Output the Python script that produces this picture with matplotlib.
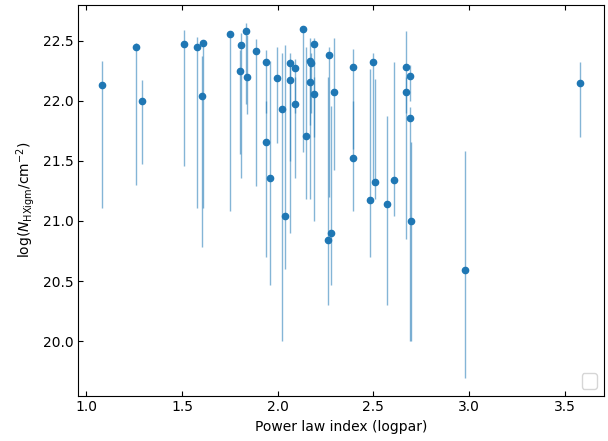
import matplotlib
matplotlib.use("Agg")
import matplotlib.pyplot as plt
import numpy as np

# power-law index and IGM column density with asymmetric bounds
index = [1.083, 1.261, 1.292, 1.512, 1.579, 1.612, 1.603,
         1.751, 1.809, 1.802, 1.833, 1.840, 1.889, 1.940, 1.940, 1.962, 1.999, 2.020, 2.039,
         2.062, 2.062, 2.090, 2.090, 2.130, 2.149, 2.170, 2.172, 2.170, 2.189, 2.189,
         2.270, 2.292, 2.263, 2.280,
         2.392, 2.392, 2.500, 2.481, 2.510, 2.572, 2.610, 2.671, 2.690, 2.671, 2.690, 2.697,
         2.978, 3.580]
nh = [22.13, 22.45, 22.00, 22.47, 22.45, 22.48, 22.04,
      22.556, 22.46, 22.25, 22.58, 22.20, 22.41, 22.32, 21.66, 21.36, 22.19, 21.93, 21.04,
      22.31, 22.17, 22.27, 21.975, 22.60, 21.71, 22.33, 22.31, 22.16, 22.47, 22.06,
      22.38, 22.075, 20.84, 20.90,
      22.28, 21.52, 22.32, 21.175, 21.32, 21.145, 21.34, 22.28, 22.21, 22.07, 21.86, 21.00,
      20.595, 22.15]
nh_hi = [22.33, 22.48, 22.175, 22.59, 22.53, 22.50, 22.375,
         22.57, 22.56, 22.42, 22.65, 22.55, 22.51, 22.42, 22.00, 22.33, 22.445, 22.40, 22.46,
         22.40, 22.35, 22.35, 22.20, 22.62, 22.445, 22.52, 22.40, 22.30, 22.52, 22.20,
         22.45, 22.52, 22.20, 21.96,
         22.43, 22.00, 22.40, 22.26, 22.18, 21.875, 22.32, 22.58, 22.30, 22.20, 21.95, 21.66,
         21.58, 22.325]
nh_lo = [21.11, 21.30, 21.47, 21.46, 21.11, 21.11, 20.78,
         21.08, 21.36, 21.56, 21.97, 21.89, 21.29, 21.90, 20.70, 20.47, 21.65, 20.00, 20.60,
         20.90, 21.50, 21.90, 21.36, 21.57, 21.18, 21.80, 21.90, 21.18, 21.00, 21.70,
         21.20, 21.42, 20.30, 20.47,
         21.60, 21.08, 21.30, 20.70, 21.18, 20.30, 21.04, 20.85, 22.00, 21.90, 20.00, 20.00,
         19.695, 21.70]

x = np.array(index)
y = np.array(nh)
yerr = [y - np.array(nh_lo), np.array(nh_hi) - y]

fig = plt.figure(figsize=(6.08, 4.41), dpi=100)
ax = fig.add_axes([0.129, 0.103, 0.864, 0.886])

ax.errorbar(x, y, yerr=yerr, fmt="o", color="#1f77b4", ms=4.5,
            ecolor=(0.12, 0.47, 0.71, 0.55), elinewidth=1)

ax.set_xticks([1.0, 1.5, 2.0, 2.5, 3.0, 3.5])
ax.set_yticks([20.0, 20.5, 21.0, 21.5, 22.0, 22.5])
ax.tick_params(direction="in", top=True, right=False)
ax.set_xlabel("Power law index (logpar)")
ax.set_ylabel(r"log($N_{\mathrm{HXigm}}/\mathrm{cm}^{-2}$)")
ax.legend(handles=[], loc="lower right", borderpad=0.55)

fig.savefig("out.png", dpi=100)
